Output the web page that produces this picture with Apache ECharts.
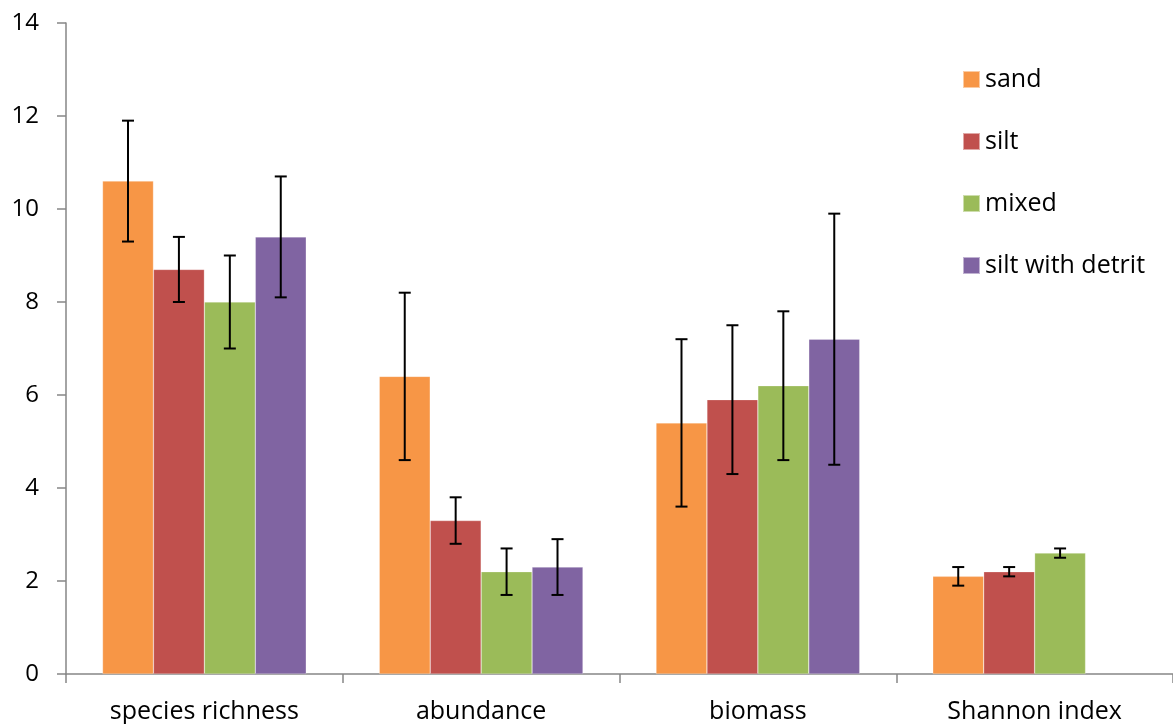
<!DOCTYPE html>
<html><head><meta charset="utf-8">
<script src="https://cdn.jsdelivr.net/npm/echarts@6/dist/echarts.min.js"></script>
<style>html,body{margin:0;padding:0;background:#fff}#c{width:1173px;height:724px}</style>
</head><body><div id="c"></div>
<script>
const categories = ['species richness', 'abundance', 'biomass', 'Shannon index'];
const seriesNames = ['sand', 'silt', 'mixed', 'silt with detrit'];
const sand = [10.6, 6.4, 5.4, 2.1];
const silt = [8.7, 3.3, 5.9, 2.2];
const mixed = [8.0, 2.2, 6.2, 2.6];
const detrit = [9.4, 2.3, 7.2, null];
const sandErr = [[9.3, 11.9], [4.6, 8.2], [3.6, 7.2], [1.9, 2.3]];
const siltErr = [[8.0, 9.4], [2.8, 3.8], [4.3, 7.5], [2.1, 2.3]];
const mixedErr = [[7.0, 9.0], [1.7, 2.7], [4.6, 7.8], [2.5, 2.7]];
const detritErr = [[8.1, 10.7], [1.7, 2.9], [4.5, 9.9], null];
const colors = ['#F79646', '#C0504D', '#9BBB59', '#8064A2'];

const values = [sand, silt, mixed, detrit];
const errs = [sandErr, siltErr, mixedErr, detritErr];
const BW = 0.184;
const FONT = '"Open Sans", sans-serif';

const series = [];
values.forEach((v, i) => {
  series.push({
    name: seriesNames[i], type: 'bar', data: v, barWidth: (BW * 100) + '%', barGap: '0%',
    itemStyle: { color: colors[i], borderColor: 'rgba(255,255,255,0.5)', borderWidth: 0.5 },
    emphasis: { disabled: true }
  });
});
errs.forEach((e, i) => {
  const d = [];
  e.forEach((r, c) => { if (r) d.push([c, r[0], r[1]]); });
  series.push({
    type: 'custom', silent: true, z: 10, data: d,
    renderItem: function (params, api) {
      const band = api.size([1, 0])[0];
      const off = (i - 1.5) * band * BW;
      const lo = api.coord([api.value(0), api.value(1)]);
      const hi = api.coord([api.value(0), api.value(2)]);
      const x = lo[0] + off;
      const cw = 6;
      const st = { stroke: '#000', lineWidth: 2 };
      return { type: 'group', children: [
        { type: 'line', shape: { x1: x, y1: lo[1], x2: x, y2: hi[1] }, style: st },
        { type: 'line', shape: { x1: x - cw, y1: lo[1], x2: x + cw, y2: lo[1] }, style: st },
        { type: 'line', shape: { x1: x - cw, y1: hi[1], x2: x + cw, y2: hi[1] }, style: st }
      ]};
    }
  });
});

const chart = echarts.init(document.getElementById('c'));
chart.setOption({
  animation: false,
  grid: { left: 66, top: 23, bottom: 48, right: -9, containLabel: false },
  legend: {
    data: seriesNames, orient: 'vertical', left: 957, top: 62,
    itemWidth: 17, itemHeight: 17, itemGap: 37, icon: 'rect',
    textStyle: { fontFamily: FONT, fontSize: 25, color: '#000', lineHeight: 24, padding: [0, 0, 0, 0] }
  },
  xAxis: {
    type: 'category', data: categories,
    axisLine: { lineStyle: { color: '#868686', width: 1.5 } },
    axisTick: { show: true, alignWithLabel: false, length: 9, lineStyle: { color: '#868686', width: 1.5 } },
    axisLabel: { fontFamily: FONT, fontSize: 25, color: '#000', margin: 25 }
  },
  yAxis: {
    type: 'value', min: 0, max: 14, interval: 2,
    axisLine: { show: true, lineStyle: { color: '#868686', width: 1.5 } },
    axisTick: { show: true, length: 9, lineStyle: { color: '#868686', width: 1.5 } },
    splitLine: { show: false },
    axisLabel: { fontFamily: FONT, fontSize: 24, color: '#000', margin: 27 }
  },
  series: series
});
</script></body></html>
